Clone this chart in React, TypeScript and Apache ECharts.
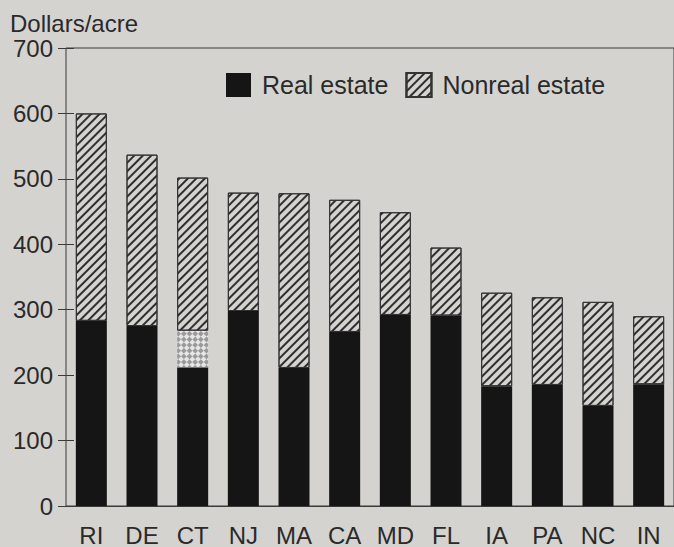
import React, { useEffect, useRef } from "react";
import * as echarts from "echarts";

const states = ["RI", "DE", "CT", "NJ", "MA", "CA", "MD", "FL", "IA", "PA", "NC", "IN"];
const realEstate = [283, 275, 212, 298, 211, 266, 292, 291, 183, 185, 153, 186];
const nonrealEstate = [317, 262, 290, 181, 267, 202, 157, 104, 143, 134, 159, 104];
// lower part of CT's nonreal segment is printed with a cross-hatch
const crossHatched = [0, 0, 56, 0, 0, 0, 0, 0, 0, 0, 0, 0];
const yMin = 0;
const yMax = 700;
const yStep = 100;
const yTitle = "Dollars/acre";

const BG = "#d5d3d0";
const INK = "#2a2a2a";
const FONT = "'Liberation Sans', Arial, Helvetica, sans-serif";

export default function App() {
  const ref = useRef<HTMLDivElement>(null);
  useEffect(() => {
    if (!ref.current) return;
    const chart = echarts.init(ref.current, undefined, { renderer: "svg" });
    const hatchedShown = nonrealEstate.map((v, i) => v - crossHatched[i]);
    const hatch = {
      symbol: "rect",
      symbolSize: 1,
      dashArrayX: [1, 0],
      dashArrayY: [2, 4],
      rotation: -Math.PI / 4,
      color: "#2e2e2e",
    };
    chart.setOption({
      animation: false,
      backgroundColor: BG,
      textStyle: { fontFamily: FONT },
      grid: {
        left: 66,
        top: 48,
        width: 613,
        height: 459,
        show: true,
        borderColor: "#3a3a3a",
        borderWidth: 1,
        backgroundColor: "transparent",
      },
      legend: {
        data: ["Real estate", "Nonreal estate"],
        left: 226,
        top: 72,
        padding: 0,
        icon: "rect",
        itemWidth: 25,
        itemHeight: 24,
        itemGap: 17,
        selectedMode: false,
        textStyle: { fontSize: 25, color: INK, fontFamily: FONT, padding: [0, 0, 0, 6] },
      },
      graphic: [
        {
          type: "text",
          left: 10,
          top: 11,
          style: { text: yTitle, fontSize: 24, fontFamily: FONT, fill: INK },
        },
      ],
      xAxis: {
        type: "category",
        data: states,
        axisLine: { show: true, lineStyle: { color: "#3a3a3a", width: 1 } },
        axisTick: { show: false },
        axisLabel: { fontSize: 24, color: INK, margin: 17, fontFamily: FONT },
      },
      yAxis: {
        type: "value",
        min: yMin,
        max: yMax,
        interval: yStep,
        offset: -8,
        axisLine: { show: false },
        axisTick: { show: true, length: 16, lineStyle: { color: "#3a3a3a", width: 1 } },
        axisLabel: { fontSize: 24, color: INK, margin: 21, fontFamily: FONT },
        splitLine: { show: false },
      },
      series: [
        {
          name: "Real estate",
          type: "bar",
          stack: "total",
          barWidth: 31,
          data: realEstate,
          itemStyle: { color: "#151515" },
        },
        {
          name: "Cross",
          type: "bar",
          stack: "total",
          barWidth: 31,
          data: crossHatched,
          itemStyle: {
            color: "#e6e6e6",
            decal: {
              symbol: "rect",
              symbolSize: 1,
              dashArrayX: [[4, 4], [0, 4, 4, 0]],
              dashArrayY: [4, 0],
              rotation: Math.PI / 4,
              color: "#9a9a9a",
            },
          },
        },
        {
          name: "Nonreal estate",
          type: "bar",
          stack: "total",
          barWidth: 31,
          data: hatchedShown,
          itemStyle: {
            color: BG,
            borderColor: "#333",
            borderWidth: 1,
            decal: hatch,
          },
        },
      ],
    });
    return () => chart.dispose();
  }, []);
  return (
    <div
      style={{ position: "fixed", left: 0, top: 0, width: 674, height: 547, background: BG }}
    >
      <div ref={ref} style={{ width: 674, height: 547 }} />
    </div>
  );
}
